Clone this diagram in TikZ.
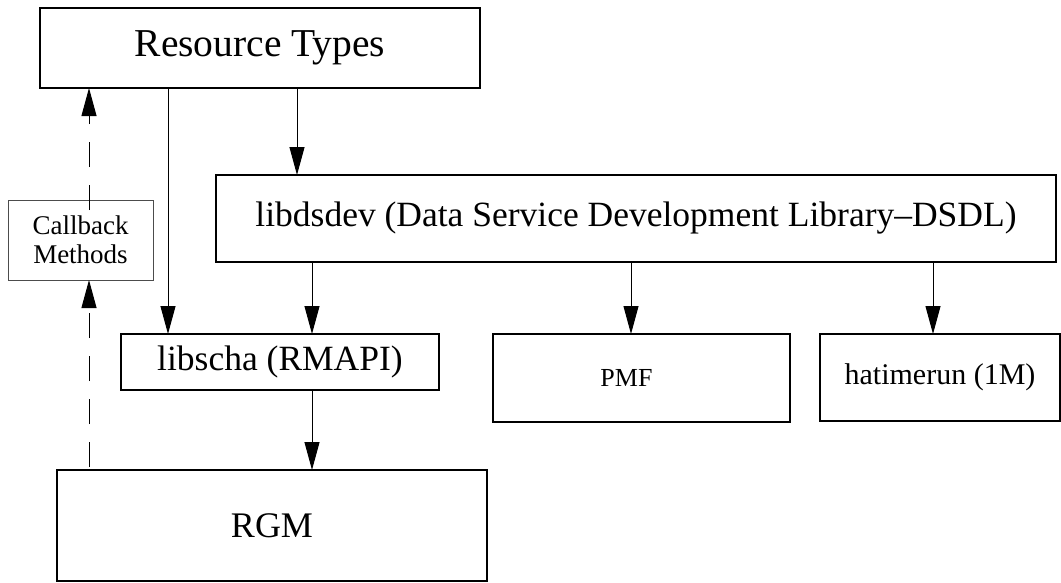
\documentclass[tikz,border=0pt]{standalone}
\usepackage{fontspec}
\setmainfont{Liberation Serif}
\usetikzlibrary{arrows.meta}
\begin{document}
\begin{tikzpicture}[x=1pt,y=-1pt,
  box/.style={draw=black,line width=1.2pt,anchor=north west,inner sep=0pt,outer sep=0pt},
  arr/.style={line width=1pt,-{Triangle[length=28pt,width=15pt]}},
  darr/.style={line width=1pt,dash pattern=on 25pt off 18pt,-{Triangle[length=28pt,width=15pt]}}]
\useasboundingbox (0,0) rectangle (1061,582);
\node[box,minimum width=440pt,minimum height=80pt,font=\fontsize{39.5}{42}\selectfont] (rt) at (40,8) {Resource Types};
\node[box,minimum width=840pt,minimum height=87pt,font=\fontsize{35.5}{38}\selectfont] (dsdev) at (216,175) {libdsdev (Data Service Development Library–DSDL)};
\node[box,draw=black!70,line width=0.9pt,minimum width=145pt,minimum height=80pt,align=center,font=\fontsize{27}{29}\selectfont] (cb) at (8,200) {Callback\\Methods};
\node[box,minimum width=318pt,minimum height=56pt,font=\fontsize{35.5}{38}\selectfont] (scha) at (121,334) {libscha (RMAPI)};
\node[box,minimum width=297pt,minimum height=88pt,font=\fontsize{26}{28}\selectfont] (pmf) at (493,334) {\hspace*{-30pt}PMF};
\node[box,minimum width=240pt,minimum height=87pt,font=\fontsize{30}{32}\selectfont] (hat) at (820,334) {hatimerun (1M)};
\node[box,minimum width=430pt,minimum height=111pt,font=\fontsize{36}{38}\selectfont] (rgm) at (57,470) {RGM};
\coordinate (xa) at (168,0);
\coordinate (xb) at (297,0);
\coordinate (xc) at (312,0);
\coordinate (xd) at (631,0);
\coordinate (xe) at (933,0);
\coordinate (xf) at (89,0);
\draw[arr] (rt.south -| xa) -- (scha.north -| xa);
\draw[arr] (rt.south -| xb) -- (dsdev.north -| xb);
\draw[arr] (dsdev.south -| xc) -- (scha.north -| xc);
\draw[arr] (dsdev.south -| xd) -- (pmf.north -| xd);
\draw[arr] (dsdev.south -| xe) -- (hat.north -| xe);
\draw[arr] (scha.south -| xc) -- (rgm.north -| xc);
\draw[darr] ([yshift=3pt]rgm.north -| xf) -- (cb.south -| xf);
\draw[darr] ([yshift=-10pt]cb.north -| xf) -- (rt.south -| xf);
\end{tikzpicture}
\end{document}
